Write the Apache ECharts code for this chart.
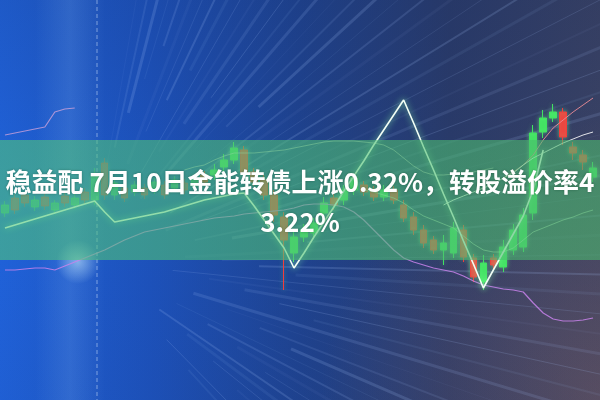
<!DOCTYPE html>
<html>
<head>
<meta charset="utf-8">
<script src="https://cdn.jsdelivr.net/npm/echarts@6/dist/echarts.min.js"></script>
<style>html,body{margin:0;padding:0;background:#1d4fa8;}#c{width:600px;height:400px;}</style>
</head>
<body>
<div id="c"></div>
<script>
// ---- data (price units; higher = higher on screen) ----
const categories = Array.from({length: 60}, (_, i) => 'D' + (i + 1));
// [open, close, low, high]
const candles = [
  [187,195,183,199],[202,190,186,206],[205,197,193,208],[193,200,189,204],[203,194,190,207],
  [190,197,186,200],[204,197,193,208],[195,202,191,206],[208,200,196,212],[200,225,195,232],
  [237,205,200,242],[205,217,200,222],[212,202,198,216],[208,215,204,219],[212,205,201,216],
  [210,218,206,222],[215,205,201,219],[212,220,208,224],[217,210,206,221],[214,222,210,226],
  [225,218,214,229],[225,230,220,236],[233,240,228,246],[240,252,236,258],[250,227,222,254],
  [228,218,214,232],[220,205,200,225],[205,185,178,210],[183,160,110,188],[147,163,138,168],
  [163,170,158,176],[167,177,162,182],[187,197,182,203],[202,195,190,206],[200,210,195,215],
  [210,222,205,226],[215,208,204,219],[210,203,199,214],[203,210,199,215],[210,200,196,214],
  [195,182,178,200],[183,170,165,188],[170,157,152,175],[160,150,146,164],[150,157,135,165],
  [147,172,142,178],[170,143,138,175],[142,123,118,146],[118,137,110,145],[142,135,130,146],
  [133,153,128,160],[150,170,145,176],[153,185,148,192],[187,267,180,275],[268,282,262,290],
  [282,288,278,296],[288,263,255,292],[253,247,240,258],[245,238,230,250],[223,232,218,238]
];
const zigzagLine = [172,175,178,181,184,187,190,193,196,199,188,178,180,182,184,186,188,191,194,197,
  200,202,204,206,207,194,180,166,152,132,147,163,178,193,209,224,239,255,270,285,
  300,277,253,230,206,183,159,136,112,130,148,166,184,210,250,null,null,null,null,null];
const purpleLine = [130,130,131,132,132,130,134,138,142,146,150,155,160,164,168,170,172,174,176,178,
  180,182,183,184,186,187,188,189,190,192,195,196,196,195,193,188,180,170,160,150,
  142,138,135,132,130,128,124,119,115,113,111,110,108,97,87,81,79,79,80,82];
const pinkLeftStart = 0,  pinkLeft  = [265,267,269,271,273,288,291,292];
const pinkRightStart = 50, pinkRight = [222,228,235,245,260,272,280,288,295,302];
const whiteRightStart = 44, whiteRight = [195,200,204,208,212,216,222,227,235,242,247,252,257,261,265,268];
const maAStart = 18, maA = [230,233,235,240,244,247,247,247,248,249,250,252,254,256,258,259,259,259,258,257,255,250,242,234,228,225,225,226,227,228,230,232];
const maBStart = 36, maB = [210,208,205,202,197,190,184,180,176,172,164,156,150,148,148,152,160,168,172,176,180,183,187,190];
const titleText = '稳益配 7月10日金能转债上涨0.32%，转股溢价率4\n3.22%';

function pad(start, vals) {
  const a = new Array(categories.length).fill(null);
  vals.forEach((v, k) => { a[start + k] = v; });
  return a;
}

// decorative light streaks radiating from the glow point
const streaks = [];
for (let k = 0; k < 60; k++) {
  const ang = (-80 + k * 2.2) * Math.PI / 180;
  const a = 0.05 + 0.12 * ((k * 7) % 5) / 4;
  const r0 = 80 + ((k * 37) % 160);
  streaks.push({
    type: 'line', z: 1, silent: true,
    shape: {x1: 90 + r0 * Math.cos(ang), y1: 262 + r0 * Math.sin(ang), x2: 90 + 800 * Math.cos(ang), y2: 262 + 800 * Math.sin(ang)},
    style: {stroke: 'rgba(170,200,255,' + a.toFixed(3) + ')', lineWidth: 1 + (k % 3)}
  });
}

const chart = echarts.init(document.getElementById('c'), null, {renderer: 'canvas'});
const lineBase = {type: 'line', symbol: 'none', z: 4, connectNulls: false, animation: false};
chart.setOption({
  animation: false,
  backgroundColor: {
    type: 'linear', x: 0, y: 0, x2: 1, y2: 0,
    colorStops: [
      {offset: 0, color: '#2062da'}, {offset: 0.25, color: '#1d52bc'},
      {offset: 0.5, color: '#1f4390'}, {offset: 0.75, color: '#2a3b6a'}, {offset: 1, color: '#3a4264'}
    ]
  },
  grid: {left: -2, right: 2, top: 0, bottom: 0},
  xAxis: {type: 'category', data: categories, show: false, boundaryGap: true},
  yAxis: {type: 'value', min: 0, max: 400, show: false, splitLine: {show: false}},
  graphic: [
    {type: 'rect', z: 0, silent: true, shape: {x: 0, y: 0, width: 600, height: 400},
      style: {fill: {type: 'radial', x: 1, y: 1, r: 0.7, colorStops: [{offset: 0, color: 'rgba(130,95,95,0.45)'}, {offset: 1, color: 'rgba(130,95,95,0)'}]}}},
    {type: 'rect', z: 0, silent: true, shape: {x: 0, y: 0, width: 600, height: 400},
      style: {fill: {type: 'linear', x: 0, y: 0, x2: 0, y2: 1, colorStops: [{offset: 0, color: 'rgba(20,40,90,0.15)'}, {offset: 0.5, color: 'rgba(20,40,90,0)'}, {offset: 1, color: 'rgba(20,40,90,0.05)'}]}}},
    ...streaks,
    {type: 'rect', z: 1, silent: true, shape: {x: 35, y: 0, width: 70, height: 400},
      style: {fill: {type: 'linear', x: 0, y: 0, x2: 1, y2: 0, colorStops: [{offset: 0, color: 'rgba(150,200,255,0)'}, {offset: 0.5, color: 'rgba(150,200,255,0.16)'}, {offset: 1, color: 'rgba(150,200,255,0)'}]}}},
    {type: 'circle', z: 1, silent: true, shape: {cx: 78, cy: 262, r: 22},
      style: {fill: {type: 'radial', x: 0.5, y: 0.5, r: 0.5, colorStops: [{offset: 0, color: 'rgba(200,235,255,0.55)'}, {offset: 1, color: 'rgba(200,235,255,0)'}]}}},
    {type: 'line', z: 1, silent: true, shape: {x1: 97, y1: 0, x2: 97, y2: 400},
      style: {stroke: 'rgba(220,235,255,0.5)', lineWidth: 1, lineDash: [4, 3]}},
    {type: 'rect', z: 10, silent: true, shape: {x: 0, y: 140, width: 600, height: 120},
      style: {fill: {type: 'linear', x: 0, y: 0, x2: 1, y2: 0, colorStops: [{offset: 0, color: 'rgba(80,200,120,0.58)'}, {offset: 1, color: 'rgba(75,185,110,0.6)'}]}}},
    {type: 'text', z: 20, silent: true, x: 300, y: 162,
      style: {text: titleText, fill: '#ffffff', align: 'center', verticalAlign: 'top',
        font: 'bold 26px "Noto Sans CJK SC", sans-serif', lineHeight: 40,
        textShadowColor: 'rgba(0,40,20,0.35)', textShadowBlur: 3}}
  ],
  series: [
    {
      type: 'candlestick', z: 3, barWidth: '72%',
      data: candles.map((c, i) => i < 20 ? {value: c, itemStyle: {opacity: 0.45}} : c),
      itemStyle: {color: '#40e260', color0: '#f23c3c', borderColor: '#40e260', borderColor0: '#f23c3c', borderWidth: 1,
        shadowColor: 'rgba(120,255,150,0.5)', shadowBlur: 4}
    },
    Object.assign({}, lineBase, {data: pad(maAStart, maA), lineStyle: {color: 'rgba(225,235,215,0.5)', width: 1}}),
    Object.assign({}, lineBase, {data: pad(maBStart, maB), lineStyle: {color: 'rgba(205,245,205,0.55)', width: 1}}),
    Object.assign({}, lineBase, {data: purpleLine, lineStyle: {color: 'rgba(200,130,235,0.85)', width: 1.2}}),
    Object.assign({}, lineBase, {data: pad(pinkLeftStart, pinkLeft), lineStyle: {color: 'rgba(225,170,220,0.7)', width: 1.2}}),
    Object.assign({}, lineBase, {data: pad(pinkRightStart, pinkRight), lineStyle: {color: 'rgba(235,140,150,0.9)', width: 1}}),
    Object.assign({}, lineBase, {data: pad(whiteRightStart, whiteRight), lineStyle: {color: 'rgba(255,255,255,0.85)', width: 1}}),
    Object.assign({}, lineBase, {data: zigzagLine, z: 5, lineStyle: {color: '#f2fff5', width: 1.6, shadowColor: 'rgba(140,255,170,0.9)', shadowBlur: 6}})
  ]
});
</script>
</body>
</html>
